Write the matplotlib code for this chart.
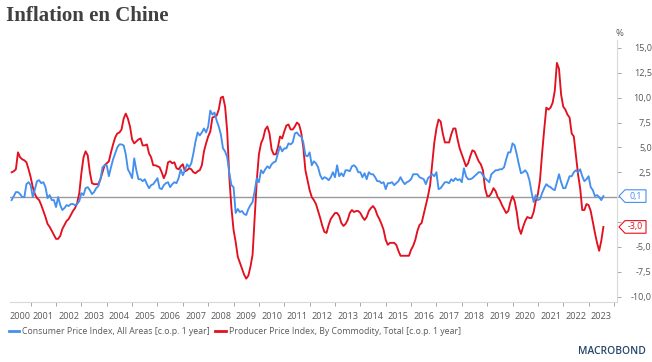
import numpy as np
import matplotlib
matplotlib.use("Agg")
import matplotlib.pyplot as plt
from matplotlib.patches import Polygon
from matplotlib.lines import Line2D
import matplotlib.transforms as mtransforms

# ---------------- data (monthly, Apr 2000 .. Aug 2023) ----------------
start_year, start_month = 2000, 4

cpi = [
    # 2000 Apr-Dec
    -0.3, 0.1, 0.5, 0.5, 0.3, 0.0, 0.0, 1.3, 1.5,
    # 2001
    1.2, 0.0, 0.8, 1.6, 1.7, 1.4, 1.5, 1.0, -0.1, 0.2, -0.3, -0.3,
    # 2002
    -1.0, 0.0, -0.8, -1.3, -1.1, -0.8, -0.9, -0.7, -0.7, -0.8, -0.7, -0.4,
    # 2003
    0.4, 0.2, 0.9, 1.0, 0.7, 0.3, 0.5, 0.9, 1.1, 1.8, 3.0, 3.2,
    # 2004
    3.2, 2.1, 3.0, 3.8, 4.4, 5.0, 5.3, 5.3, 5.2, 4.3, 2.8, 2.4,
    # 2005
    1.9, 3.9, 2.7, 1.8, 1.8, 1.6, 1.8, 1.3, 0.9, 1.2, 1.3, 1.6,
    # 2006
    1.9, 0.9, 0.8, 1.2, 1.4, 1.5, 1.0, 1.3, 1.5, 1.4, 1.9, 2.8,
    # 2007
    2.2, 2.7, 3.3, 3.0, 3.4, 4.4, 5.6, 6.5, 6.2, 6.5, 6.9, 6.5,
    # 2008
    7.1, 8.7, 8.3, 8.5, 7.7, 7.1, 6.3, 4.9, 4.6, 4.0, 2.4, 1.2,
    # 2009
    1.0, -1.6, -1.2, -1.5, -1.4, -1.7, -1.8, -1.2, -0.8, -0.5, 0.6, 1.9,
    # 2010
    1.5, 2.7, 2.4, 2.8, 3.1, 2.9, 3.3, 3.5, 3.6, 4.4, 5.1, 4.6,
    # 2011
    4.9, 4.9, 5.4, 5.3, 5.5, 6.4, 6.5, 6.2, 6.1, 5.5, 4.2, 4.1,
    # 2012
    4.5, 3.2, 3.6, 3.4, 3.0, 2.2, 1.8, 2.0, 1.9, 1.7, 2.0, 2.5,
    # 2013
    2.0, 3.2, 2.1, 2.4, 2.1, 2.7, 2.7, 2.6, 3.1, 3.2, 3.0, 2.5,
    # 2014
    2.5, 2.0, 2.4, 1.8, 2.5, 2.3, 2.3, 2.0, 1.6, 1.6, 1.4, 1.5,
    # 2015
    0.8, 1.4, 1.4, 1.5, 1.2, 1.4, 1.6, 2.0, 1.6, 1.3, 1.5, 1.6,
    # 2016
    1.8, 2.3, 2.3, 2.3, 2.0, 1.9, 1.8, 1.3, 1.9, 2.1, 2.3, 2.1,
    # 2017
    2.5, 0.8, 0.9, 1.2, 1.5, 1.5, 1.4, 1.8, 1.6, 1.9, 1.7, 1.8,
    # 2018
    1.5, 2.9, 2.1, 1.8, 1.8, 1.9, 2.1, 2.3, 2.5, 2.5, 2.2, 1.9,
    # 2019
    1.7, 1.5, 2.3, 2.5, 2.7, 2.7, 2.8, 2.8, 3.0, 3.8, 4.5, 4.5,
    # 2020
    5.4, 5.2, 4.3, 3.3, 2.4, 2.5, 2.7, 2.4, 1.7, 0.5, -0.5, 0.2,
    # 2021
    -0.3, -0.2, 0.4, 0.9, 1.3, 1.1, 1.0, 0.8, 0.7, 1.5, 2.3, 1.5,
    # 2022
    0.9, 0.9, 1.5, 2.1, 2.1, 2.5, 2.7, 2.5, 2.8, 2.1, 1.6, 1.8,
    # 2023 Jan-Aug
    2.1, 1.0, 0.7, 0.1, 0.2, 0.0, -0.3, 0.1,
]

ppi = [
    # 2000 Apr-Dec
    2.5, 2.6, 2.8, 4.5, 4.0, 3.8, 3.7, 3.5, 2.8,
    # 2001
    2.0, 1.0, 0.3, -0.1, -0.3, -0.8, -1.4, -2.0, -2.7, -3.0, -3.4, -3.8,
    # 2002
    -4.2, -4.2, -3.9, -3.2, -2.8, -2.4, -2.2, -1.8, -1.4, -1.1, -0.6, 0.4,
    # 2003
    2.4, 4.0, 4.6, 4.2, 2.5, 1.4, 1.3, 1.3, 1.3, 1.8, 2.5, 3.2,
    # 2004
    3.4, 3.6, 4.5, 5.3, 6.0, 6.4, 6.5, 6.8, 7.9, 8.4, 7.9, 7.1,
    # 2005
    5.8, 5.4, 5.6, 5.8, 5.9, 5.2, 5.2, 5.3, 4.4, 4.0, 3.2, 3.2,
    # 2006
    3.1, 3.0, 2.5, 1.9, 2.4, 3.5, 3.6, 3.4, 3.5, 2.9, 2.8, 3.1,
    # 2007
    3.3, 2.6, 2.7, 2.9, 2.8, 2.5, 2.4, 2.6, 2.7, 3.2, 4.6, 5.4,
    # 2008
    6.1, 6.6, 8.0, 8.1, 8.2, 8.8, 10.0, 10.1, 9.1, 6.6, 2.0, -1.1,
    # 2009
    -3.3, -4.5, -6.0, -6.6, -7.2, -7.8, -8.2, -7.9, -7.0, -5.8, -2.1, 1.7,
    # 2010
    4.3, 5.4, 5.9, 6.8, 7.1, 6.4, 4.8, 4.3, 4.3, 5.0, 6.1, 5.9,
    # 2011
    6.6, 7.2, 7.3, 6.8, 6.8, 7.1, 7.5, 7.3, 6.5, 5.0, 2.7, 1.7,
    # 2012
    0.7, 0.0, -0.3, -0.7, -1.4, -2.1, -2.9, -3.5, -3.6, -2.8, -2.2, -1.9,
    # 2013
    -1.6, -1.6, -1.9, -2.6, -2.9, -2.7, -2.3, -1.6, -1.3, -1.5, -1.4, -1.4,
    # 2014
    -1.6, -2.0, -2.3, -2.0, -1.4, -1.1, -0.9, -1.2, -1.8, -2.2, -2.7, -3.3,
    # 2015
    -4.3, -4.8, -4.6, -4.6, -4.6, -4.8, -5.4, -5.9, -5.9, -5.9, -5.9, -5.9,
    # 2016
    -5.3, -4.9, -4.3, -3.4, -2.8, -2.6, -1.7, -0.8, 0.1, 1.2, 3.3, 5.5,
    # 2017
    6.9, 7.8, 7.6, 6.4, 5.5, 5.5, 5.5, 6.3, 6.9, 6.9, 5.8, 4.9,
    # 2018
    4.3, 3.7, 3.1, 3.4, 4.1, 4.7, 4.6, 4.1, 3.6, 3.3, 2.7, 0.9,
    # 2019
    0.1, 0.1, 0.4, 0.9, 0.6, 0.0, -0.3, -0.8, -1.2, -1.6, -1.4, -0.5,
    # 2020
    0.1, -0.4, -1.5, -3.1, -3.7, -3.0, -2.4, -2.0, -2.1, -2.1, -1.5, -0.4,
    # 2021
    0.3, 1.7, 4.4, 6.8, 9.0, 8.8, 9.0, 9.5, 10.7, 13.5, 12.9, 10.3,
    # 2022
    9.1, 8.8, 8.3, 8.0, 6.4, 6.1, 4.2, 2.3, 0.9, -1.3, -1.3, -0.7,
    # 2023 Jan-Aug
    -0.8, -1.4, -2.5, -3.6, -4.6, -5.4, -4.4, -3.0,
]

cpi_label = "Consumer Price Index, All Areas [c.o.p. 1 year]"
ppi_label = "Producer Price Index, By Commodity, Total [c.o.p. 1 year]"
title = "Inflation en Chine"
years = list(range(2000, 2024))
yticks = [15.0, 12.5, 10.0, 7.5, 5.0, 2.5, 0.0, -2.5, -5.0, -7.5, -10.0]
hidden_ylabels = [0.0, -2.5]  # covered by the last-value callouts

# ---------------- styling ----------------
BLUE = "#4590ee"
RED = "#e3101f"
GREY_TXT = "#595959"
AX_GREY = "#d9d9d9"

n = len(cpi)
t = start_year + (start_month - 1) / 12 + np.arange(n) / 12.0

fig = plt.figure(figsize=(6.52, 3.62), dpi=100)
W, H = 652, 362
ax = fig.add_axes([10 / W, 1 - 302 / H, (617 - 10) / W, (302 - 40) / H])

xlim = (2000.185, 2024.12)
ylim = (-10.55, 15.8)
ax.set_xlim(*xlim)
ax.set_ylim(*ylim)

ax.axhline(0, color="#9a9a9a", lw=1.0, zorder=1)
ax.plot(t, cpi, color=BLUE, lw=1.35, zorder=3, solid_joinstyle="round")
ax.plot(t, ppi, color=RED, lw=1.35, zorder=2, solid_joinstyle="round")

for s in ["top", "left"]:
    ax.spines[s].set_visible(False)
ax.spines["bottom"].set_color(AX_GREY)
ax.spines["right"].set_color(AX_GREY)
ax.spines["bottom"].set_linewidth(0.8)
ax.spines["right"].set_linewidth(0.8)

# x ticks at year boundaries, labels at mid-year
ax.set_xticks(years[1:] + [2024])
ax.set_xticklabels([])
ax.tick_params(axis="x", which="major", length=3, width=0.7, color="#a6a6a6", direction="out")
mids = [(max(y, xlim[0]) + min(y + 1, 2024)) / 2 for y in years]
ax.set_xticks(mids, minor=True)
ax.set_xticklabels([str(y) for y in years], minor=True, fontsize=6.6, color=GREY_TXT,
                   family="Open Sans")
ax.tick_params(axis="x", which="minor", length=0, pad=7)

# y axis on right
ax.yaxis.tick_right()
ax.set_yticks(yticks)
ax.set_yticklabels(["" if v in hidden_ylabels else f"{v:.1f}".replace(".", ",") for v in yticks],
                   fontsize=6.6, color=GREY_TXT, family="Open Sans", ha="right")
ax.tick_params(axis="y", length=3, width=0.7, color="#a6a6a6", pad=22)

# title, unit
fig.text(6 / W, 1 - 16 / H, title, fontsize=15, fontweight="bold", family="Liberation Serif",
         color="#404040", va="center", ha="left")
fig.text(619 / W, 1 - 34 / H, "%", fontsize=6.8, color=GREY_TXT, family="Open Sans",
         ha="center", va="center")

# last-value callouts
tr = mtransforms.blended_transform_factory(fig.transFigure, ax.transData)
dpu = (302 - 40) / (ylim[1] - ylim[0])  # px per unit
hh = 6.3 / dpu
for vals, col in [(cpi, BLUE), (ppi, RED)]:
    v = vals[-1]
    x0, x1, x2 = 619 / W, 625 / W, 646 / W
    poly = Polygon([(x0, v), (x1, v + hh), (x2, v + hh), (x2, v - hh), (x1, v - hh)],
                   closed=True, transform=tr, facecolor="white", edgecolor=col,
                   lw=0.8, clip_on=False, zorder=5)
    ax.add_patch(poly)
    ax.text((x1 + x2) / 2, v, f"{v:.1f}".replace(".", ","), transform=tr, color=col,
            fontsize=6.4, family="Open Sans", ha="center", va="center", zorder=6,
            clip_on=False)

# legend
handles = [Line2D([], [], color=BLUE, lw=2), Line2D([], [], color=RED, lw=2)]
leg = fig.legend(handles, [cpi_label, ppi_label], loc="center left",
                 bbox_to_anchor=(1 / W, 1 - 332 / H), ncol=2, frameon=False,
                 handlelength=1.2, handletextpad=0.35, columnspacing=0.6,
                 prop={"family": "Open Sans", "size": 6.3})
for txt in leg.get_texts():
    txt.set_color(GREY_TXT)

# brand
fig.text(646 / W, 1 - 351 / H, "MACROBOND", fontsize=7.4, color="#27466b",
         family="Open Sans", fontweight="semibold", ha="right", va="center")

fig.savefig("out.png", dpi=100, facecolor="white")
